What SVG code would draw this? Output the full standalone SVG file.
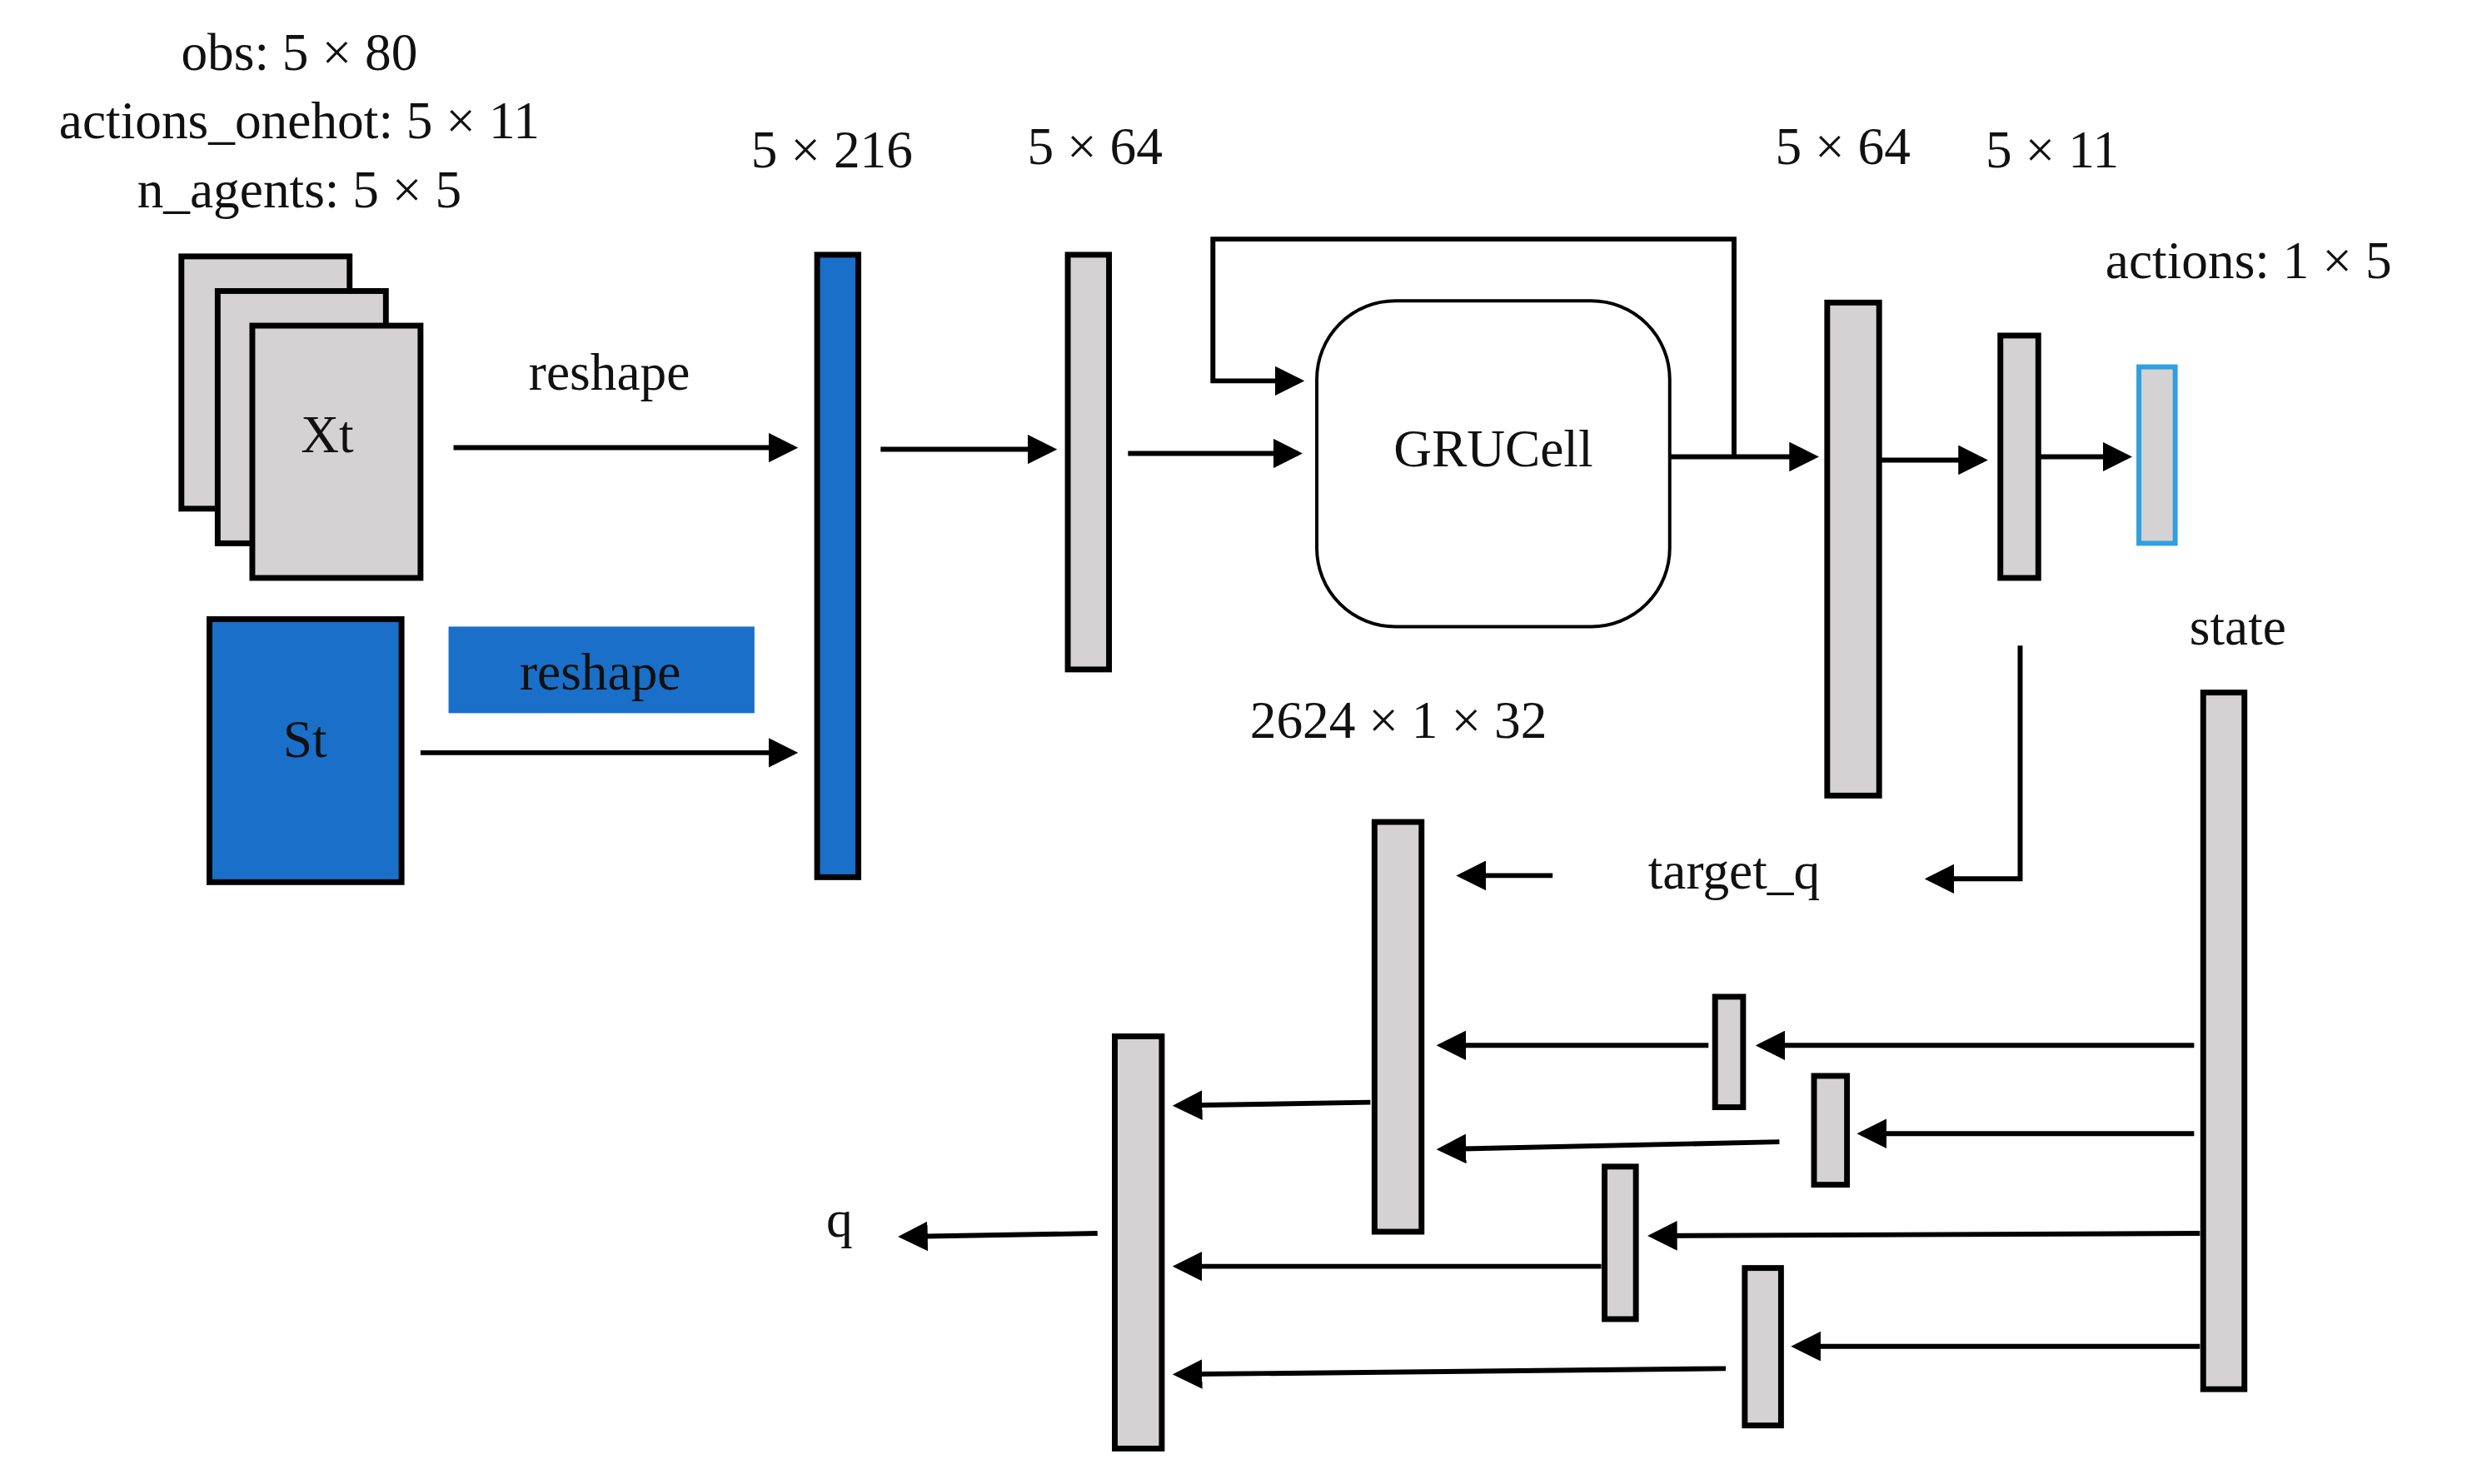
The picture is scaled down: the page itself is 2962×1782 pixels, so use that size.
<svg xmlns="http://www.w3.org/2000/svg" width="2962" height="1782" viewBox="0 0 2962 1782">
<style>
text{font-family:"Liberation Serif",serif;font-size:64px;fill:#111;text-anchor:middle}
.g{fill:#d4d2d2;stroke:#000;stroke-width:7}
.b{fill:#1a6fc8;stroke:#000;stroke-width:7}
.c path{fill:none;stroke:#000;stroke-width:6;marker-end:url(#a)}
</style>
<defs><marker id="a" markerWidth="6" markerHeight="6" refX="5" refY="3" orient="auto" markerUnits="strokeWidth"><path d="M0,0 L6,3 L0,6 Z" fill="#000"/></marker></defs>
<g transform="scale(0.99)">
<g id="labels">
<text x="363" y="85">obs: 5 × 80</text>
<text x="363" y="168">actions_onehot: 5 × 11</text>
<text x="363" y="252">n_agents: 5 × 5</text>
<text x="1009" y="203">5 × 216</text>
<text x="1328" y="199">5 × 64</text>
<text x="2235" y="199">5 × 64</text>
<text x="2489" y="203">5 × 11</text>
<text x="2727" y="337">actions: 1 × 5</text>
<text x="2714" y="782">state</text>
<text x="1696" y="895">2624 × 1 × 32</text>
<text x="739" y="473">reshape</text>
<text x="2103" y="1078">target_q</text>
<text x="1018" y="1500">q</text>
</g>
<g id="Xt">
<rect class="g" x="220" y="311" width="204" height="306" stroke-width="5"/>
<rect class="g" x="264" y="353" width="204" height="306" stroke-width="5"/>
<rect class="g" x="306" y="395" width="204" height="306" stroke-width="5"/>
<text x="397" y="549">Xt</text>
</g>
<g id="St"><rect class="b" x="254" y="751" width="233" height="319"/><text x="370" y="918">St</text></g>
<g id="reshape2"><rect x="544" y="760" width="371" height="105" fill="#1a6fc8"/><text x="728" y="836">reshape</text></g>
<g id="concat"><rect class="b" x="991" y="309" width="50" height="755"/></g>
<g id="fc1"><rect class="g" x="1295" y="309" width="50" height="503"/></g>
<g id="gru"><rect x="1597" y="365" width="428" height="395" rx="95" fill="#fff" stroke="#000" stroke-width="4"/><text x="1811" y="566">GRUCell</text></g>
<g id="h"><rect class="g" x="2216" y="367" width="63" height="598"/></g>
<g id="fc2"><rect class="g" x="2426" y="407" width="46" height="294"/></g>
<g id="actions"><rect x="2594" y="445" width="44" height="214" fill="#d4d2d2" stroke="#2fa0e0" stroke-width="6"/></g>
<g id="state"><rect class="g" x="2672" y="840" width="50" height="845"/></g>
<g id="mixA"><rect class="g" x="1667" y="997" width="57" height="497"/></g>
<g id="mixB"><rect class="g" x="1352" y="1257" width="57" height="500"/></g>
<g id="w1"><rect class="g" x="2080" y="1209" width="34" height="134"/></g>
<g id="w2"><rect class="g" x="2200" y="1305" width="40" height="132"/></g>
<g id="w3"><rect class="g" x="1946" y="1415" width="38" height="185"/></g>
<g id="w4"><rect class="g" x="2116" y="1538" width="44" height="191"/></g>
<g class="c" id="connectors">
<path d="M550,543 H962"/>
<path d="M510,913 H962"/>
<path d="M1068,545 H1276"/>
<path d="M1368,550 H1574"/>
<path d="M2025,554 H2200"/>
<path d="M2103,554 V290 H1471 V462 H1576"/>
<path d="M2279,558 H2405"/>
<path d="M2472,554 H2580"/>
<path d="M2450,783 V1066 H2340"/>
<path d="M1883,1062 H1772"/>
<path d="M2661,1268 H2135"/>
<path d="M2661,1375 H2258"/>
<path d="M2668,1496 L2004,1499"/>
<path d="M2668,1633 H2178"/>
<path d="M2072,1268 H1748"/>
<path d="M2158,1385 L1748,1394"/>
<path d="M1662,1337 L1428,1341"/>
<path d="M1942,1536 H1428"/>
<path d="M2093,1660 L1428,1667"/>
<path d="M1331,1496 L1095,1500"/>
</g>
</g>
</svg>
